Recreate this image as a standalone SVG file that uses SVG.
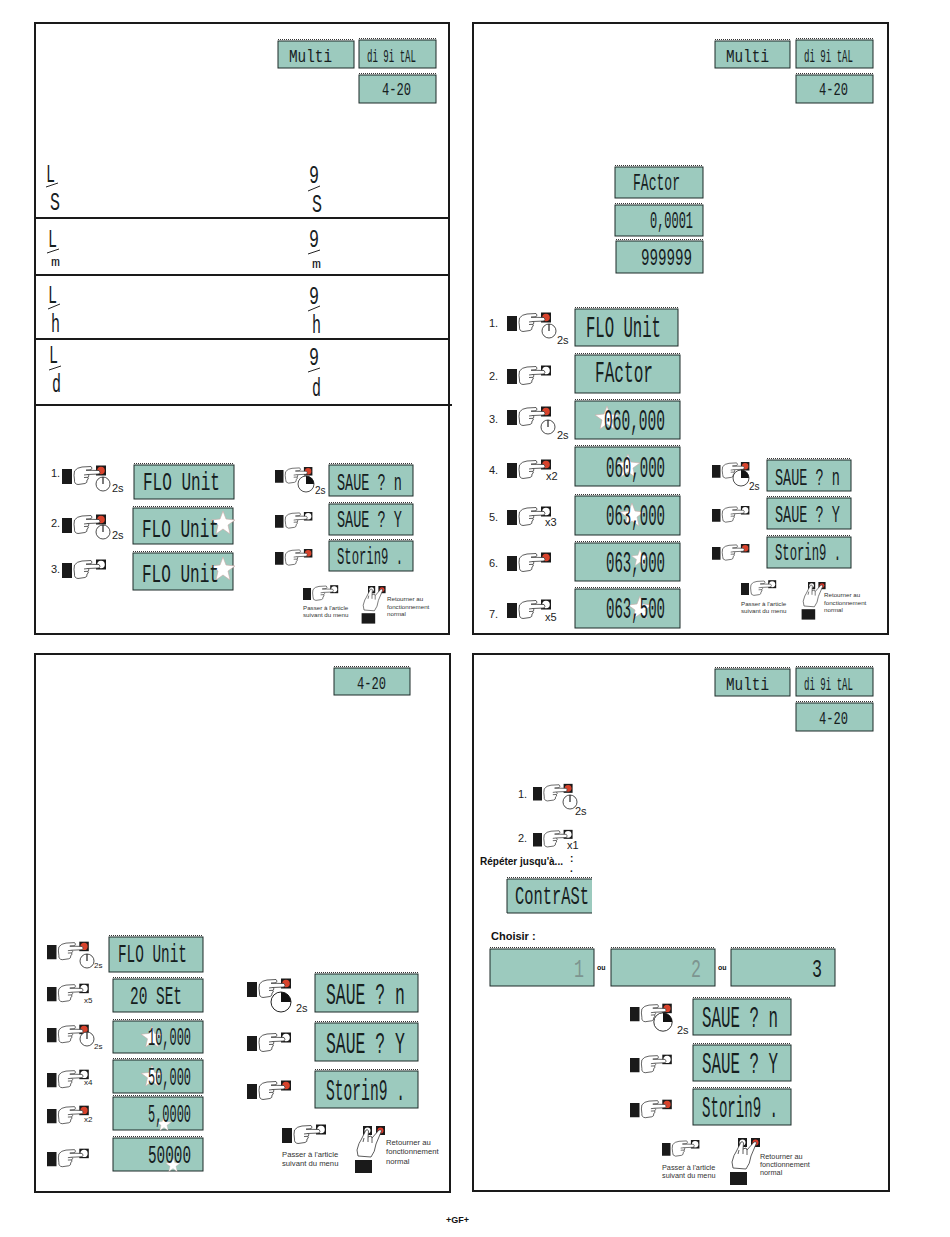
<svg xmlns="http://www.w3.org/2000/svg" width="950" height="1237" viewBox="0 0 950 1237">
<style>
.panel{fill:#fff;stroke:#1a1a1a;stroke-width:2}
.rule{stroke:#1a1a1a;stroke-width:2}
.lcd{fill:#9ccabe;stroke:#1c2b28;stroke-width:1}
.dots{stroke:#333;stroke-width:1.2;stroke-dasharray:1 1}
text{font-family:"Liberation Sans",Arial,sans-serif}
.seg,.frac{font-family:"Liberation Mono","Courier New",monospace}
.seg{fill:#16201e;font-size:26px}
.s21{font-size:23px}
.s20{font-size:19px}
.s19{font-size:19px}
.s25{font-size:29px}
.frac{fill:#16201e;font-size:26px}
.fm{font-size:13px}
.dim{fill:#7d9590}
.lab{fill:#222;font-size:11px}
.x{fill:#222;font-size:10px}
.x8{fill:#222;font-size:8px}
.t6{fill:#333;font-size:6.2px}
.t7{fill:#333;font-size:7.7px}
.t74{fill:#333;font-size:7.3px}
.bold{fill:#111;font-weight:bold}
.hand{fill:#fff;stroke:#333;stroke-width:.8}
.slash{stroke:#222;stroke-width:1}
</style>
<defs>
<path id="handshape" class="hand" d="M12.500,2Q15,-1.500 20,-2L29,-2.500Q31,-1 29,.8L24,1.200L37,1.500Q39,3.300 37,5L26,5.500Q28,7 26,8.300Q27,10.500 25,11Q25.500,14 23,14.500L16,15.500Q12,15 12.500,11Q11.500,6 12.500,2ZM26,5.500L22,6M26,8.300L22,8.500"/>
<g id="handR"><rect width="10" height="15" fill="#1a1a1a"/><rect x="34" y="-3.500" width="10" height="10" fill="#1a1a1a"/><circle cx="39" cy="1.500" r="3.800" fill="#d8432c"/><use href="#handshape"/></g>
<g id="handW"><rect width="10" height="15" fill="#1a1a1a"/><rect x="34" y="-3.500" width="10" height="10" fill="#1a1a1a"/><circle cx="39" cy="1.500" r="3.800" fill="#fff"/><use href="#handshape"/></g>
<g id="hand2"><rect x="0" y="0" width="9" height="9" fill="#1a1a1a"/><rect x="13" y="0" width="9" height="9" fill="#1a1a1a"/><circle cx="4.500" cy="4.500" r="3" fill="#fff"/><circle cx="17.500" cy="4.500" r="3" fill="#e03a2a"/><rect x="-8" y="34" width="17" height="13" fill="#1a1a1a"/><path class="hand" d="M-5,30L-6,24Q-4,16 -2,14L3,4Q5,3 5.500,5L5,11L8,10L9,12L16,4Q18,3 18.500,5L13,18Q12,26 8,31ZM0,16L1,12M5,11L5,16M9,12L9,17"/></g>
<g id="clock"><circle r="7" fill="#fff" stroke="#222" stroke-width=".8"/><line y2="-7" stroke="#222" stroke-width="1.200"/></g>
<g id="clockW"><circle r="8" fill="#fff" stroke="#222" stroke-width=".8"/><path d="M0,0V-8A8,8 0 0 1 8,0Z" fill="#111"/></g>
<polygon id="star" points="0,-12 3,-4 12,-3 5,2 7,11 0,6 -7,11 -5,2 -12,-3 -3,-4" fill="#fff" stroke="#c9a8a4" stroke-width=".6"/>
</defs>
<rect width="950" height="1237" fill="#fff"/>
<g id="panels">
<rect class="panel" x="35" y="23" width="414" height="611"/>
<rect class="panel" x="473" y="23" width="415" height="611"/>
<rect class="panel" x="35" y="654" width="415" height="538"/>
<rect class="panel" x="473" y="654" width="416" height="537"/>
</g>
<g id="rules">
<line class="rule" x1="35" y1="218" x2="450" y2="218"/>
<line class="rule" x1="35" y1="275" x2="449" y2="275"/>
<line class="rule" x1="35" y1="339" x2="449" y2="339"/>
<line class="rule" x1="35" y1="405" x2="452" y2="405"/>
</g>
<g id="panel1">
<g id="p1-multi"><rect class="lcd" x="278" y="41" width="76" height="27"/><line class="dots" x1="278" y1="39.500" x2="354" y2="39.500"/><text class="seg s19" x="289" y="62" textLength="43" lengthAdjust="spacingAndGlyphs">Multi</text></g>
<g id="p1-digital"><rect class="lcd" x="359" y="40" width="77" height="28"/><line class="dots" x1="359" y1="38.500" x2="436" y2="38.500"/><text class="seg s19" x="367" y="62" textLength="49" lengthAdjust="spacingAndGlyphs">di 9i tAL</text></g>
<g id="p1-420"><rect class="lcd" x="359" y="75" width="77" height="28"/><line class="dots" x1="359" y1="73.500" x2="436" y2="73.500"/><text class="seg s20" x="382" y="95" textLength="29" lengthAdjust="spacingAndGlyphs">4-20</text></g>
<g id="p1-units">
<text class="frac" x="46" y="182" textLength="9" lengthAdjust="spacingAndGlyphs">L</text><line class="slash" x1="46" y1="187" x2="58" y2="183"/><text class="frac" x="50" y="210" textLength="10" lengthAdjust="spacingAndGlyphs">S</text>
<text class="frac" x="48" y="247" textLength="9" lengthAdjust="spacingAndGlyphs">L</text><line class="slash" x1="47" y1="253" x2="59" y2="249"/><text class="frac fm" x="51" y="266" textLength="9" lengthAdjust="spacingAndGlyphs">m</text>
<text class="frac" x="48" y="303" textLength="9" lengthAdjust="spacingAndGlyphs">L</text><line class="slash" x1="48" y1="309" x2="60" y2="304"/><text class="frac" x="51" y="332" textLength="9" lengthAdjust="spacingAndGlyphs">h</text>
<text class="frac" x="49" y="363" textLength="9" lengthAdjust="spacingAndGlyphs">L</text><line class="slash" x1="49" y1="370" x2="61" y2="366"/><text class="frac" x="52" y="392" textLength="9" lengthAdjust="spacingAndGlyphs">d</text>
<text class="frac" x="309" y="183" textLength="10" lengthAdjust="spacingAndGlyphs">9</text><line class="slash" x1="308" y1="191" x2="320" y2="186"/><text class="frac" x="312" y="212" textLength="10" lengthAdjust="spacingAndGlyphs">S</text>
<text class="frac" x="309" y="247" textLength="10" lengthAdjust="spacingAndGlyphs">9</text><line class="slash" x1="308" y1="254" x2="320" y2="250"/><text class="frac fm" x="312" y="268" textLength="9" lengthAdjust="spacingAndGlyphs">m</text>
<text class="frac" x="309" y="304" textLength="10" lengthAdjust="spacingAndGlyphs">9</text><line class="slash" x1="308" y1="311" x2="320" y2="306"/><text class="frac" x="312" y="333" textLength="9" lengthAdjust="spacingAndGlyphs">h</text>
<text class="frac" x="309" y="365" textLength="10" lengthAdjust="spacingAndGlyphs">9</text><line class="slash" x1="308" y1="372" x2="320" y2="368"/><text class="frac" x="312" y="396" textLength="9" lengthAdjust="spacingAndGlyphs">d</text>
</g>
<g id="p1-step1"><text class="lab" x="51" y="477">1.</text><use href="#handR" transform="translate(62 469)"/><use href="#clock" transform="translate(103 484)"/><text class="lab" x="112" y="492">2s</text><rect class="lcd" x="134" y="465" width="100" height="34"/><line class="dots" x1="134" y1="463.500" x2="234" y2="463.500"/><text class="seg" x="143" y="490" textLength="77" lengthAdjust="spacingAndGlyphs">FLO Unit</text></g>
<g id="p1-step2"><text class="lab" x="51" y="527">2.</text><use href="#handR" transform="translate(62 518)"/><use href="#clock" transform="translate(103 532)"/><text class="lab" x="112" y="539">2s</text><rect class="lcd" x="133" y="508" width="100" height="36"/><line class="dots" x1="133" y1="506.500" x2="233" y2="506.500"/><use href="#star" transform="translate(223 523)"/><text class="seg" x="142" y="537" textLength="77" lengthAdjust="spacingAndGlyphs">FLO Unit</text></g>
<g id="p1-step3"><text class="lab" x="51" y="573">3.</text><use href="#handW" transform="translate(62 563)"/><rect class="lcd" x="133" y="553" width="100" height="37"/><line class="dots" x1="133" y1="551.500" x2="233" y2="551.500"/><use href="#star" transform="translate(223 569)"/><text class="seg" x="142" y="582" textLength="77" lengthAdjust="spacingAndGlyphs">FLO Unit</text></g>
<g id="p1-save1"><use href="#handR" transform="translate(275 470) scale(.85)"/><use href="#clockW" transform="translate(306 484)"/><text class="x" x="315" y="494">2s</text><rect class="lcd" x="329" y="465" width="84" height="31"/><line class="dots" x1="329" y1="463.500" x2="413" y2="463.500"/><text class="seg s21" x="337" y="490" textLength="65" lengthAdjust="spacingAndGlyphs">SAUE ? n</text></g>
<g id="p1-save2"><use href="#handW" transform="translate(275 515) scale(.85)"/><rect class="lcd" x="329" y="504" width="84" height="31"/><line class="dots" x1="329" y1="502.500" x2="413" y2="502.500"/><text class="seg s21" x="337" y="527" textLength="65" lengthAdjust="spacingAndGlyphs">SAUE ? Y</text></g>
<g id="p1-save3"><use href="#handR" transform="translate(275 552) scale(.85)"/><rect class="lcd" x="329" y="541" width="84" height="30"/><line class="dots" x1="329" y1="539.500" x2="413" y2="539.500"/><text class="seg s21" x="337" y="564" textLength="66" lengthAdjust="spacingAndGlyphs">Storin9 .</text></g>
<g id="p1-next"><use href="#handW" transform="translate(303 588) scale(.8)"/><text class="t6" x="303" y="610">Passer à l'article</text><text class="t6" x="303" y="617">suivant du menu</text></g>
<g id="p1-back"><use href="#hand2" transform="translate(368 586) scale(.8)"/><text class="t6" x="387" y="601">Retourner au</text><text class="t6" x="387" y="609">fonctionnement</text><text class="t6" x="387" y="616">normal</text></g>
</g>
<g id="panel2">
<g id="p2-multi"><rect class="lcd" x="715" y="41" width="75" height="27"/><line class="dots" x1="715" y1="39.500" x2="790" y2="39.500"/><text class="seg s19" x="726" y="62" textLength="43" lengthAdjust="spacingAndGlyphs">Multi</text></g>
<g id="p2-digital"><rect class="lcd" x="796" y="40" width="77" height="28"/><line class="dots" x1="796" y1="38.500" x2="873" y2="38.500"/><text class="seg s19" x="804" y="62" textLength="49" lengthAdjust="spacingAndGlyphs">di 9i tAL</text></g>
<g id="p2-420"><rect class="lcd" x="796" y="75" width="77" height="28"/><line class="dots" x1="796" y1="73.500" x2="873" y2="73.500"/><text class="seg s20" x="819" y="95" textLength="29" lengthAdjust="spacingAndGlyphs">4-20</text></g>
<g id="p2-factor"><rect class="lcd" x="615" y="167" width="88" height="31"/><line class="dots" x1="615" y1="165.500" x2="703" y2="165.500"/><text class="seg s21" x="633" y="190" textLength="47" lengthAdjust="spacingAndGlyphs">FActor</text></g>
<g id="p2-min"><rect class="lcd" x="615" y="205" width="88" height="31"/><line class="dots" x1="615" y1="203.500" x2="703" y2="203.500"/><text class="seg s21" x="650" y="228" textLength="43" lengthAdjust="spacingAndGlyphs">0,0001</text></g>
<g id="p2-max"><rect class="lcd" x="616" y="241" width="87" height="32"/><line class="dots" x1="616" y1="239.500" x2="703" y2="239.500"/><text class="seg s21" x="641" y="265" textLength="51" lengthAdjust="spacingAndGlyphs">999999</text></g>
<g id="p2-step1"><text class="lab" x="489" y="327">1.</text><use href="#handR" transform="translate(507 316)"/><use href="#clock" transform="translate(549 331)"/><text class="lab" x="557" y="344">2s</text><rect class="lcd" x="575" y="309" width="103" height="37"/><line class="dots" x1="575" y1="307.500" x2="678" y2="307.500"/><text class="seg s25" x="586" y="337" textLength="75" lengthAdjust="spacingAndGlyphs">FLO Unit</text></g>
<g id="p2-step2"><text class="lab" x="489" y="380">2.</text><use href="#handW" transform="translate(507 369)"/><rect class="lcd" x="575" y="355" width="105" height="38"/><line class="dots" x1="575" y1="353.500" x2="680" y2="353.500"/><text class="seg s25" x="595" y="382" textLength="58" lengthAdjust="spacingAndGlyphs">FActor</text></g>
<g id="p2-step3"><text class="lab" x="489" y="423">3.</text><use href="#handR" transform="translate(507 410)"/><use href="#clock" transform="translate(548 427)"/><text class="lab" x="557" y="439">2s</text><rect class="lcd" x="575" y="401" width="105" height="38"/><line class="dots" x1="575" y1="399.500" x2="680" y2="399.500"/><use href="#star" transform="translate(607 418)"/><text class="seg s25" x="604" y="430" textLength="61" lengthAdjust="spacingAndGlyphs">060,000</text></g>
<g id="p2-step4"><text class="lab" x="489" y="474">4.</text><use href="#handR" transform="translate(507 463)"/><text class="lab" x="546" y="480">x2</text><rect class="lcd" x="575" y="447" width="105" height="39"/><line class="dots" x1="575" y1="445.500" x2="680" y2="445.500"/><use href="#star" transform="translate(628 466)"/><text class="seg s25" x="606" y="477" textLength="59" lengthAdjust="spacingAndGlyphs">060,000</text></g>
<g id="p2-step5"><text class="lab" x="489" y="521">5.</text><use href="#handW" transform="translate(507 510)"/><text class="lab" x="545" y="526">x3</text><rect class="lcd" x="575" y="496" width="105" height="39"/><line class="dots" x1="575" y1="494.500" x2="680" y2="494.500"/><use href="#star" transform="translate(632 515)"/><text class="seg s25" x="606" y="525" textLength="59" lengthAdjust="spacingAndGlyphs">063,000</text></g>
<g id="p2-step6"><text class="lab" x="489" y="567">6.</text><use href="#handR" transform="translate(507 556)"/><rect class="lcd" x="575" y="543" width="105" height="38"/><line class="dots" x1="575" y1="541.500" x2="680" y2="541.500"/><use href="#star" transform="translate(640 558) scale(.7)"/><text class="seg s25" x="606" y="572" textLength="59" lengthAdjust="spacingAndGlyphs">063,000</text></g>
<g id="p2-step7"><text class="lab" x="489" y="618">7.</text><use href="#handW" transform="translate(507 603)"/><text class="lab" x="545" y="621">x5</text><rect class="lcd" x="575" y="589" width="105" height="39"/><line class="dots" x1="575" y1="587.500" x2="680" y2="587.500"/><use href="#star" transform="translate(640 608)"/><text class="seg s25" x="606" y="618" textLength="59" lengthAdjust="spacingAndGlyphs">063,500</text></g>
<g id="p2-save1"><use href="#handR" transform="translate(712 465) scale(.85)"/><use href="#clockW" transform="translate(741 478)"/><text class="x" x="749" y="490">2s</text><rect class="lcd" x="767" y="460" width="84" height="31"/><line class="dots" x1="767" y1="458.500" x2="851" y2="458.500"/><text class="seg s21" x="775" y="485" textLength="65" lengthAdjust="spacingAndGlyphs">SAUE ? n</text></g>
<g id="p2-save2"><use href="#handW" transform="translate(712 509) scale(.85)"/><rect class="lcd" x="767" y="498" width="84" height="31"/><line class="dots" x1="767" y1="496.500" x2="851" y2="496.500"/><text class="seg s21" x="775" y="522" textLength="65" lengthAdjust="spacingAndGlyphs">SAUE ? Y</text></g>
<g id="p2-save3"><use href="#handR" transform="translate(712 547) scale(.85)"/><rect class="lcd" x="767" y="537" width="84" height="31"/><line class="dots" x1="767" y1="535.500" x2="851" y2="535.500"/><text class="seg s21" x="775" y="560" textLength="66" lengthAdjust="spacingAndGlyphs">Storin9 .</text></g>
<g id="p2-next"><use href="#handW" transform="translate(741 583) scale(.8)"/><text class="t6" x="741" y="606">Passer à l'article</text><text class="t6" x="741" y="613">suivant du menu</text></g>
<g id="p2-back"><use href="#hand2" transform="translate(808 582) scale(.8)"/><text class="t6" x="824" y="597">Retourner au</text><text class="t6" x="824" y="605">fonctionnement</text><text class="t6" x="824" y="612">normal</text></g>
</g>
<g id="panel3">
<g id="p3-420"><rect class="lcd" x="334" y="668" width="76" height="27"/><line class="dots" x1="334" y1="666.500" x2="410" y2="666.500"/><text class="seg s20" x="357" y="689" textLength="29" lengthAdjust="spacingAndGlyphs">4-20</text></g>
<g id="p3-step1"><use href="#handR" transform="translate(47 945) scale(.95)"/><use href="#clock" transform="translate(87 961)"/><text class="x8" x="94" y="968">2s</text><rect class="lcd" x="109" y="937" width="94" height="35"/><line class="dots" x1="109" y1="935.500" x2="203" y2="935.500"/><text class="seg" x="118" y="962" textLength="69" lengthAdjust="spacingAndGlyphs">FLO Unit</text></g>
<g id="p3-step2"><use href="#handW" transform="translate(47 987) scale(.95)"/><text class="x8" x="84" y="1003">x5</text><rect class="lcd" x="113" y="979" width="90" height="33"/><line class="dots" x1="113" y1="977.500" x2="203" y2="977.500"/><text class="seg" x="130" y="1004" textLength="52" lengthAdjust="spacingAndGlyphs">20 SEt</text></g>
<g id="p3-step3"><use href="#handR" transform="translate(47 1028) scale(.95)"/><use href="#clock" transform="translate(87 1039)"/><text class="x8" x="94" y="1049">2s</text><rect class="lcd" x="113" y="1021" width="90" height="32"/><line class="dots" x1="113" y1="1019.500" x2="203" y2="1019.500"/><use href="#star" transform="translate(152 1037) scale(.9)"/><text class="seg" x="148" y="1045" textLength="43" lengthAdjust="spacingAndGlyphs">10,000</text></g>
<g id="p3-step4"><use href="#handW" transform="translate(47 1073) scale(.95)"/><text class="x8" x="84" y="1085">x4</text><rect class="lcd" x="113" y="1060" width="90" height="33"/><line class="dots" x1="113" y1="1058.500" x2="203" y2="1058.500"/><use href="#star" transform="translate(152 1076) scale(.9)"/><text class="seg" x="148" y="1085" textLength="43" lengthAdjust="spacingAndGlyphs">50,000</text></g>
<g id="p3-step5"><use href="#handR" transform="translate(47 1109) scale(.95)"/><text class="x8" x="84" y="1122">x2</text><rect class="lcd" x="113" y="1097" width="90" height="33"/><line class="dots" x1="113" y1="1095.500" x2="203" y2="1095.500"/><use href="#star" transform="translate(164 1124) scale(.6)"/><text class="seg" x="148" y="1122" textLength="43" lengthAdjust="spacingAndGlyphs">5,0000</text></g>
<g id="p3-step6"><use href="#handW" transform="translate(47 1152) scale(.95)"/><rect class="lcd" x="113" y="1138" width="90" height="33"/><line class="dots" x1="113" y1="1136.500" x2="203" y2="1136.500"/><use href="#star" transform="translate(173 1165) scale(.6)"/><text class="seg" x="148" y="1163" textLength="43" lengthAdjust="spacingAndGlyphs">50000</text></g>
<g id="p3-save1"><use href="#handR" transform="translate(247 982)"/><g transform="translate(281 1002) scale(1.25)"><use href="#clockW"/></g><text class="lab" x="296" y="1012">2s</text><rect class="lcd" x="315" y="974" width="103" height="38"/><line class="dots" x1="315" y1="972.500" x2="418" y2="972.500"/><text class="seg s25" x="326" y="1004" textLength="79" lengthAdjust="spacingAndGlyphs">SAUE ? n</text></g>
<g id="p3-save2"><use href="#handW" transform="translate(247 1036)"/><rect class="lcd" x="315" y="1023" width="103" height="38"/><line class="dots" x1="315" y1="1021.500" x2="418" y2="1021.500"/><text class="seg s25" x="326" y="1053" textLength="79" lengthAdjust="spacingAndGlyphs">SAUE ? Y</text></g>
<g id="p3-save3"><use href="#handR" transform="translate(247 1084)"/><rect class="lcd" x="315" y="1071" width="103" height="37"/><line class="dots" x1="315" y1="1069.500" x2="418" y2="1069.500"/><text class="seg s25" x="326" y="1100" textLength="79" lengthAdjust="spacingAndGlyphs">Storin9 .</text></g>
<g id="p3-next"><use href="#handW" transform="translate(282 1128)"/><text class="t7" x="282" y="1157">Passer à l'article</text><text class="t7" x="282" y="1166">suivant du menu</text></g>
<g id="p3-back"><use href="#hand2" transform="translate(363 1126)"/><text class="t7" x="386" y="1145">Retourner au</text><text class="t7" x="386" y="1154">fonctionnement</text><text class="t7" x="386" y="1164">normal</text></g>
</g>
<g id="panel4">
<g id="p4-multi"><rect class="lcd" x="715" y="669" width="75" height="27"/><line class="dots" x1="715" y1="667.500" x2="790" y2="667.500"/><text class="seg s19" x="726" y="690" textLength="43" lengthAdjust="spacingAndGlyphs">Multi</text></g>
<g id="p4-digital"><rect class="lcd" x="796" y="668" width="77" height="28"/><line class="dots" x1="796" y1="666.500" x2="873" y2="666.500"/><text class="seg s19" x="804" y="690" textLength="49" lengthAdjust="spacingAndGlyphs">di 9i tAL</text></g>
<g id="p4-420"><rect class="lcd" x="796" y="703" width="77" height="28"/><line class="dots" x1="796" y1="701.500" x2="873" y2="701.500"/><text class="seg s20" x="819" y="724" textLength="29" lengthAdjust="spacingAndGlyphs">4-20</text></g>
<g id="p4-step1"><text class="lab" x="518" y="798">1.</text><use href="#handR" transform="translate(533 787) scale(.9)"/><use href="#clock" transform="translate(570 802)"/><text class="lab" x="575" y="815">2s</text></g>
<g id="p4-step2"><text class="lab" x="518" y="842">2.</text><use href="#handW" transform="translate(533 833) scale(.9)"/><text class="lab" x="567" y="849">x1</text></g>
<g id="p4-repeat"><text class="bold" style="font-size:10px" x="480" y="865">Répéter jusqu'à...</text><text class="bold" style="font-size:10px" x="570" y="862">:</text><text class="bold" style="font-size:10px" x="570" y="872">.</text></g>
<g id="p4-contrast"><rect x="507" y="879" width="85" height="34" fill="#9ccabe"/><path d="M592,879H507V913H592" fill="none" stroke="#1c2b28"/><line class="dots" x1="507" y1="877.500" x2="592" y2="877.500"/><text class="seg" x="515" y="904" textLength="74" lengthAdjust="spacingAndGlyphs">ContrASt</text></g>
<g id="p4-choose"><text class="bold" style="font-size:11px" x="491" y="940">Choisir :</text><text class="bold" style="font-size:7px" x="597" y="970">ou</text><text class="bold" style="font-size:7px" x="718" y="970">ou</text></g>
<g id="p4-opt1"><rect class="lcd" x="490" y="949" width="104" height="37"/><line class="dots" x1="490" y1="947.500" x2="594" y2="947.500"/><text class="seg dim" x="574" y="977" textLength="10" lengthAdjust="spacingAndGlyphs">1</text></g>
<g id="p4-opt2"><rect class="lcd" x="611" y="949" width="104" height="37"/><line class="dots" x1="611" y1="947.500" x2="715" y2="947.500"/><text class="seg dim" x="691" y="977" textLength="10" lengthAdjust="spacingAndGlyphs">2</text></g>
<g id="p4-opt3"><rect class="lcd" x="731" y="949" width="104" height="37"/><line class="dots" x1="731" y1="947.500" x2="835" y2="947.500"/><text class="seg" x="812" y="977" textLength="10" lengthAdjust="spacingAndGlyphs">3</text></g>
<g id="p4-save1"><use href="#handR" transform="translate(630 1007) scale(.95)"/><g transform="translate(663 1022) scale(1.15)"><use href="#clockW"/></g><text class="lab" x="677" y="1034">2s</text><rect class="lcd" x="693" y="999" width="98" height="36"/><line class="dots" x1="693" y1="997.500" x2="791" y2="997.500"/><text class="seg s25" x="702" y="1027" textLength="76" lengthAdjust="spacingAndGlyphs">SAUE ? n</text></g>
<g id="p4-save2"><use href="#handW" transform="translate(630 1058) scale(.95)"/><rect class="lcd" x="693" y="1045" width="98" height="36"/><line class="dots" x1="693" y1="1043.500" x2="791" y2="1043.500"/><text class="seg s25" x="702" y="1073" textLength="76" lengthAdjust="spacingAndGlyphs">SAUE ? Y</text></g>
<g id="p4-save3"><use href="#handR" transform="translate(630 1103) scale(.95)"/><rect class="lcd" x="693" y="1089" width="98" height="36"/><line class="dots" x1="693" y1="1087.500" x2="791" y2="1087.500"/><text class="seg s25" x="702" y="1117" textLength="76" lengthAdjust="spacingAndGlyphs">Storin9 .</text></g>
<g id="p4-next"><use href="#handW" transform="translate(662 1143) scale(.85)"/><text class="t74" x="662" y="1170">Passer à l'article</text><text class="t74" x="662" y="1178">suivant du menu</text></g>
<g id="p4-back"><use href="#hand2" transform="translate(738 1138)"/><text class="t74" x="760" y="1159">Retourner au</text><text class="t74" x="760" y="1167">fonctionnement</text><text class="t74" x="760" y="1175">normal</text></g>
</g>
<text id="footer" class="bold" style="font-size:9px" x="446" y="1223">+GF+</text>
</svg>
